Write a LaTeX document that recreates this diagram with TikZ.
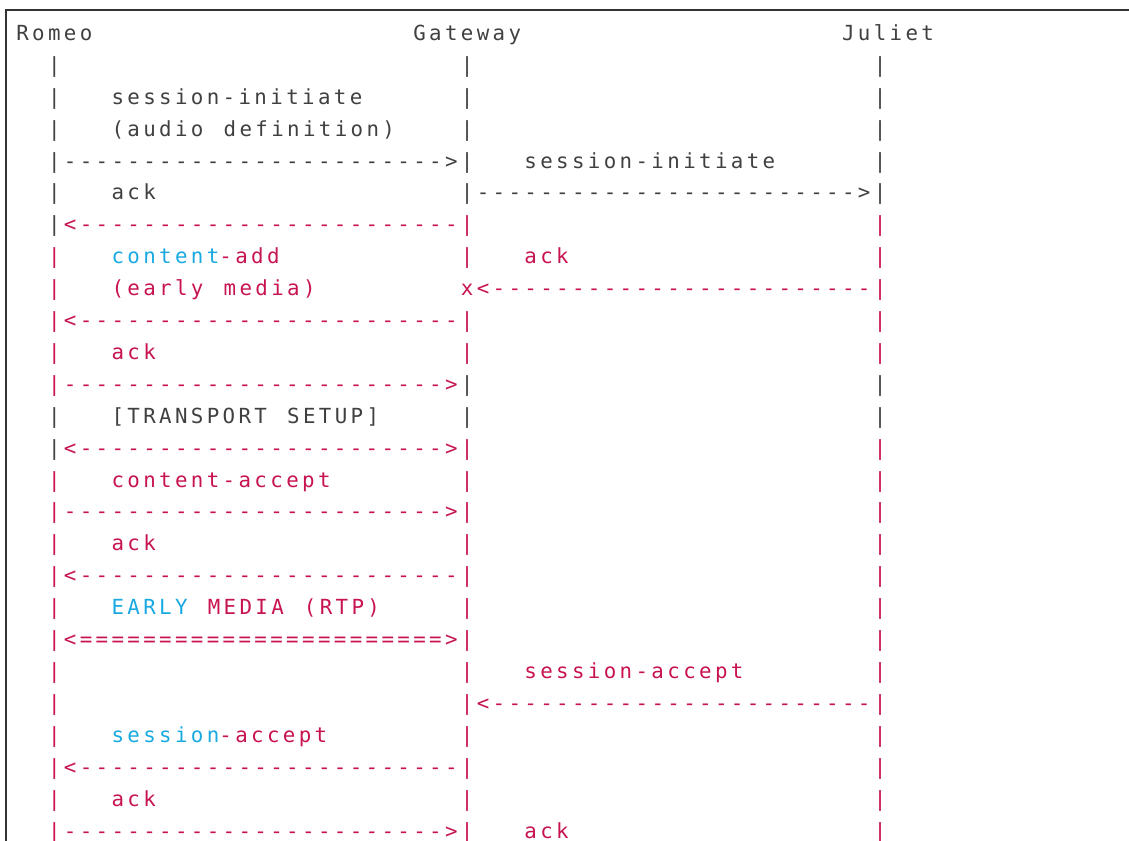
\documentclass[tikz,border=0pt]{standalone}
\usepackage{fontspec}
\usepackage{xcolor}
\usepackage{tikz}
\setmonofont[LetterSpace=16.15,WordSpace=1.2683]{DejaVu Sans Mono}
\definecolor{ink}{HTML}{404040}
\definecolor{hlred}{HTML}{C71450}
\definecolor{hlblue}{HTML}{19A9E1}
\definecolor{rulegray}{HTML}{333333}

\begin{document}
\begin{tikzpicture}[x=11.91pt,y=-23.925pt,font=\ttfamily\fontsize{15.6}{18}\selectfont]
  \tikzstyle{code}=[anchor=base west,inner sep=0pt,outer sep=0pt,text=ink]
  \tikzstyle{hl}=[code,text=hlred]
  \useasboundingbox (-1.0264,-1.2696) rectangle (70.07,25.063);

  % frame round the listing
  \draw [rulegray,line width=1.1pt] (-0.6486,25.2) -- (-0.6486,-0.956) -- (70.3,-0.956);

  % the three parties
  \node [code] (romeo) at (0,0) {Romeo};
  \node [code] (gateway) at (25,0) {Gateway};
  \node [code] (juliet) at (52,0) {Juliet};

  % life lines, one bar per row
  \foreach \r in {1,...,6,12,13} \node [code] (romeo-\r) at (2,\r) {|};
  \foreach \r in {7,...,11} \node [hl] (romeo-\r) at (2,\r) {|};
  \foreach \r in {14,...,25} \node [hl] (romeo-\r) at (2,\r) {|};
  \foreach \r in {1,...,5,11,12} \node [code] (gw-\r) at (28,\r) {|};
  \foreach \r in {6,7,9,10} \node [hl] (gw-\r) at (28,\r) {|};
  \foreach \r in {13,...,25} \node [hl] (gw-\r) at (28,\r) {|};
  \foreach \r in {1,...,5,11,12} \node [code] (juliet-\r) at (54,\r) {|};
  \foreach \r in {6,...,10} \node [hl] (juliet-\r) at (54,\r) {|};
  \foreach \r in {13,...,25} \node [hl] (juliet-\r) at (54,\r) {|};

  % messages between romeo and gateway
  \node [code] (m4) at (3,4) {------------------------>};
  \node [hl] (m6) at (3,6) {<------------------------};
  \node [hl] (m9) at (3,9) {<------------------------};
  \node [hl] (m11) at (3,11) {------------------------>};
  \node [hl] (m13) at (3,13) {<----------------------->};
  \node [hl] (m15) at (3,15) {------------------------>};
  \node [hl] (m17) at (3,17) {<------------------------};
  \node [hl] (m19) at (3,19) {<=======================>};
  \node [hl] (m23) at (3,23) {<------------------------};
  \node [hl] (m25) at (3,25) {------------------------>};

  % messages between gateway and juliet
  \node [code] (m5) at (29,5) {------------------------>};
  \node [hl] (m8) at (28,8) {x<------------------------};
  \node [hl] (m21) at (29,21) {<------------------------};

  % labels on the left
  \node [code] (lbl2) at (6,2) {session-initiate};
  \node [code] (lbl3) at (6,3) {(audio definition)};
  \node [code] (lbl5) at (6,5) {ack};
  \node [hl] (lbl7) at (6,7) {\textcolor{hlblue}{content}-add};
  \node [hl] (lbl8) at (6,8) {(early media)};
  \node [hl] (lbl10) at (6,10) {ack};
  \node [code] (lbl12) at (6,12) {[TRANSPORT SETUP]};
  \node [hl] (lbl14) at (6,14) {content-accept};
  \node [hl] (lbl16) at (6,16) {ack};
  \node [hl] (lbl18) at (6,18) {\textcolor{hlblue}{EARLY} MEDIA (RTP)};
  \node [hl] (lbl22) at (6,22) {\textcolor{hlblue}{session}-accept};
  \node [hl] (lbl24) at (6,24) {ack};

  % labels on the right
  \node [code] (lbl4) at (32,4) {session-initiate};
  \node [hl] (lbl7r) at (32,7) {ack};
  \node [hl] (lbl20) at (32,20) {session-accept};
  \node [hl] (lbl25) at (32,25) {ack};

\end{tikzpicture}
\end{document}
